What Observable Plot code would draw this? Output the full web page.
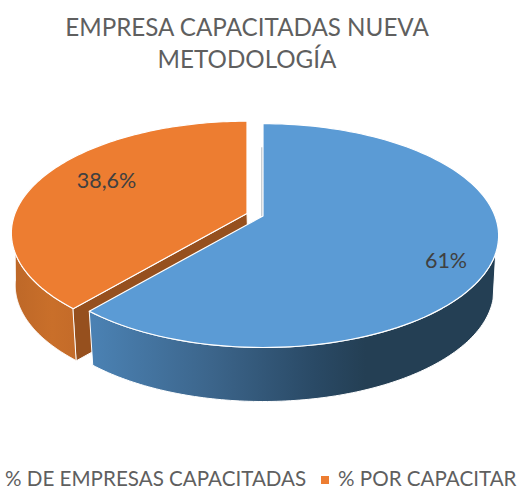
<!DOCTYPE html>
<html><head><meta charset="utf-8">
<script src="https://cdn.jsdelivr.net/npm/d3@7"></script>
<script src="https://cdn.jsdelivr.net/npm/@observablehq/plot@0.6"></script>
<style>
html,body{margin:0;padding:0;background:#fff;overflow:hidden}
#page{position:relative;width:518px;height:489px;overflow:hidden;font-family:Lato,sans-serif}
#title{position:absolute;left:-12px;width:518px;top:11px;text-align:center;font-size:24.2px;line-height:32px;color:#5f5f5f}
#chart{position:absolute;left:0;top:90px}
.lg{position:absolute;top:467px;font-size:20.6px;line-height:22px;color:#5f5f5f;white-space:nowrap;height:22px}
.sw{position:absolute;width:8px;height:8px;top:476px}
</style></head><body><div id="page">
<div id="title"></div><div id="chart"></div>
</div>
<script>
const titleLines = ["EMPRESA CAPACITADAS NUEVA", "METODOLOGÍA"];
const categories = ["% DE EMPRESAS CAPACITADAS", "% POR CAPACITAR"];
const values = [61, 38.6];
const labels = ["61%", "38,6%"];
const topColors = ["#5b9bd5", "#ed7d31"];
const cutColor = "#96501e";

// Perspective pie: turn a share of the circle into page position
const total = d3.sum(values);
const split = values[0] / total * 360;
const k = -0.175, A = 108.5, B = 232, depth = 54, top0 = 90;
function P(deg, ox, oy, level, baseScale = 0.98) {
  const t = deg * Math.PI / 180, c = Math.sin(t), s = -Math.cos(t), w = 1 + k * s;
  return {x: ox + B * (level ? baseScale : 1) * c / w,
          y: oy + (level ? depth : 0) + A * s / w - top0};
}
const arc = (a, b, ox, oy, level, bs) => d3.range(0, 121).map(i => P(a + (b - a) * i / 120, ox, oy, level, bs));
const blueO = [262.5, 215.5], orangeO = [246.5, 213], orangeBase = [248, 211];
const apex = (o, level) => ({x: o[0], y: o[1] + (level ? depth : 0) - top0});

const blueTop = [apex(blueO, 0), ...arc(0, split, ...blueO, 0)];
const orangeTop = [apex(orangeO, 0), ...arc(split, 360, ...orangeO, 0)];
const blueWall = [...arc(109, split, ...blueO, 0), ...arc(split, 105, ...blueO, 1)];
const orangeWall = [...arc(split, 250, ...orangeO, 0), ...arc(262, split, ...orangeBase, 1, 0.99)];
const orangeCut = [P(split, ...orangeO, 0), apex(orangeO, 0), apex(orangeBase, 1), P(split, ...orangeBase, 1, 0.99)];
const blueCut = [P(0, blueO[0] - 1, blueO[1] + 24, 0), apex([blueO[0] - 1, blueO[1]], 0)];

const poly = (d, fill, sw = 1.2) => Plot.line(d, {x: "x", y: "y", fill, stroke: "#fff", strokeWidth: sw, curve: "linear-closed", strokeLinejoin: "round"});

function grad(id, stops) {
  const ns = "http://www.w3.org/2000/svg";
  const g = document.createElementNS(ns, "linearGradient");
  g.setAttribute("id", id);
  for (const [o, c] of stops) {
    const s = document.createElementNS(ns, "stop");
    s.setAttribute("offset", o); s.setAttribute("stop-color", c); g.appendChild(s);
  }
  return g;
}
const defs = () => {
  const d = document.createElementNS("http://www.w3.org/2000/svg", "defs");
  d.appendChild(grad("blueSide", [[0, "#4b82b4"], [0.3, "#3c658b"], [0.55, "#2a4a66"], [0.68, "#243f54"], [1, "#243f54"]]));
  d.appendChild(grad("orangeSide", [[0, "#be6828"], [0.6, "#c96f2a"], [1, "#c46b29"]]));
  return d;
};

const plot = Plot.plot({
  width: 518, height: 350, margin: 0,
  x: {domain: [0, 518], range: [0, 518], axis: null},
  y: {domain: [0, 350], range: [0, 350], axis: null},
  marks: [
    defs,
    poly(orangeWall, "url(#orangeSide)", 1),
    poly(orangeCut, cutColor, 1),
    poly(blueWall, "url(#blueSide)", 1),
    Plot.line(blueCut, {x: "x", y: "y", stroke: "#8f9ca8", strokeWidth: 1}),
    poly(blueTop, topColors[0]),
    poly(orangeTop, topColors[1]),
    Plot.text([labels[0]], {x: () => 445.5, y: () => 261 - top0, text: d => d, fontSize: 21.5, fill: "#404040", fontFamily: "Lato"}),
    Plot.text([labels[1]], {x: () => 106, y: () => 181 - top0, text: d => d, fontSize: 21.5, fill: "#404040", fontFamily: "Lato"})
  ]
});
document.getElementById("chart").appendChild(plot);
document.getElementById("title").innerHTML = titleLines.join("<br>");

const page = document.getElementById("page");
[[5, null], [338, 321]].forEach(([x, sx], i) => {
  const t = document.createElement("div");
  t.className = "lg"; t.style.left = x + "px"; t.textContent = categories[i];
  page.appendChild(t);
  if (sx !== null) {
    const s = document.createElement("div");
    s.className = "sw"; s.style.left = sx + "px"; s.style.background = topColors[i];
    page.appendChild(s);
  }
});
</script>
</body></html>
